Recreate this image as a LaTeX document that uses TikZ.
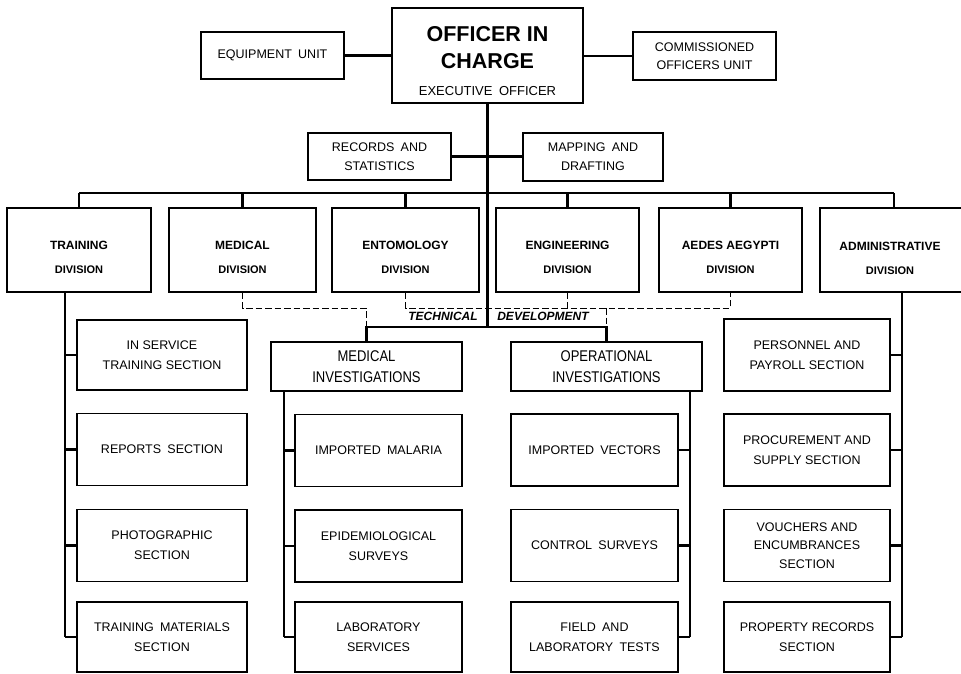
\documentclass[tikz,border=0pt]{standalone}
\usepackage{fontspec}
\setmainfont{Liberation Sans}
\newfontfamily\condfont[FakeStretch=0.84]{Liberation Sans}

\tikzset{
  box/.style={draw, line width=1.4pt, align=center, inner sep=0pt,
    font=\fontsize{12.5}{20}\selectfont},
  sect/.style={box, minimum height=72pt},
  division/.style={box, minimum height=84pt},
  divtext/.style={align=center, inner sep=0pt, font=\fontsize{12}{24}\selectfont\bfseries},
  invest/.style={box, minimum width=191pt, minimum height=49pt,
    font=\condfont\fontsize{15.5}{21}\selectfont},
  link/.style={line width=2.2pt},
  techlink/.style={line width=1pt, dash pattern=on 6.5pt off 3pt},
}

\begin{document}
\begin{tikzpicture}[x=1pt, y=-1pt]
    \useasboundingbox (0,0) rectangle (961,673);
    \clip (0,0) rectangle (961,673);

    % Officer in charge and staff units
    \node[box, minimum width=191pt, minimum height=95pt] (oic) at (487.5,55.5) {};
    \node[align=center, inner sep=0pt, font=\fontsize{21.5}{27}\selectfont] (oic-t) at (487.5,61)
        {{\bfseries OFFICER IN}\\{\bfseries CHARGE}\\{\fontsize{13}{27}\selectfont EXECUTIVE\enspace OFFICER}};
    \node[box, minimum width=143pt, minimum height=47pt] (equip) at (272.5,55.5) {EQUIPMENT\enspace UNIT};
    \node[box, minimum width=143pt, minimum height=48pt, font=\fontsize{12.5}{18}\selectfont] (comm) at (704.5,56)
        {COMMISSIONED\\OFFICERS UNIT};
    \node[box, minimum width=143pt, minimum height=47pt, font=\fontsize{12.5}{19}\selectfont] (rec) at (379.5,156.5)
        {RECORDS\enspace AND\\STATISTICS};
    \node[box, minimum width=140pt, minimum height=48pt, font=\fontsize{12.5}{19}\selectfont] (map) at (593,157)
        {MAPPING\enspace AND\\DRAFTING};

    % Divisions
    \node[division, minimum width=144pt] (train) at (79,250) {};
    \node[division, minimum width=147pt] (med) at (242.5,250) {};
    \node[division, minimum width=147pt] (ent) at (405.5,250) {};
    \node[division, minimum width=143pt] (eng) at (567.5,250) {};
    \node[division, minimum width=143pt] (aedes) at (730.5,250) {};
    \node[division, minimum width=148pt] (admin) at (894,250) {};
    \node[divtext] (train-t) at (79,257) {TRAINING\\{\fontsize{11}{24}\selectfont DIVISION}};
    \node[divtext] (med-t) at (242.5,257) {MEDICAL\\{\fontsize{11}{24}\selectfont DIVISION}};
    \node[divtext] (ent-t) at (405.5,257) {ENTOMOLOGY\\{\fontsize{11}{24}\selectfont DIVISION}};
    \node[divtext] (eng-t) at (567.5,257) {ENGINEERING\\{\fontsize{11}{24}\selectfont DIVISION}};
    \node[divtext] (aedes-t) at (730.5,257) {AEDES AEGYPTI\\{\fontsize{11}{24}\selectfont DIVISION}};
    \node[divtext] (admin-t) at (890,258.5) {ADMINISTRATIVE\\{\fontsize{11}{24}\selectfont DIVISION}};

    % Technical development
    \node[invest] (medinv) at (366.5,366.5) {MEDICAL\\INVESTIGATIONS};
    \node[invest] (opinv) at (606.5,366.5) {OPERATIONAL\\INVESTIGATIONS};
    \node[inner sep=0pt, font=\fontsize{12}{14}\selectfont\bfseries\itshape] (tech) at (443,316.5) {TECHNICAL};
    \node[inner sep=0pt, font=\fontsize{12}{14}\selectfont\bfseries\itshape] (devel) at (543,316.5) {DEVELOPMENT};

    % Training sections
    \node[sect, minimum width=170pt, minimum height=70pt] (insvc) at (162,355) {IN SERVICE\\TRAINING SECTION};
    \node[sect, minimum width=170pt] (reports) at (162,449.5) {REPORTS\enspace SECTION};
    \node[sect, minimum width=170pt] (photo) at (162,545.5) {PHOTOGRAPHIC\\SECTION};
    \node[sect, minimum width=170pt, minimum height=70pt] (trmat) at (162,637) {TRAINING\enspace MATERIALS\\SECTION};

    % Medical investigations
    \node[sect, minimum width=167pt] (malaria) at (378.5,450.5) {IMPORTED\enspace MALARIA};
    \node[sect, minimum width=167pt] (epid) at (378.5,546) {EPIDEMIOLOGICAL\\SURVEYS};
    \node[sect, minimum width=167pt, minimum height=70pt] (labsvc) at (378.5,637) {LABORATORY\\SERVICES};

    % Operational investigations
    \node[sect, minimum width=167pt] (vectors) at (594.5,450) {IMPORTED\enspace VECTORS};
    \node[sect, minimum width=167pt] (ctrl) at (594.5,545.5) {CONTROL\enspace SURVEYS};
    \node[sect, minimum width=167pt, minimum height=70pt] (fieldlab) at (594.5,637) {FIELD\enspace AND\\LABORATORY\enspace TESTS};

    % Administrative sections
    \node[sect, minimum width=166pt] (personnel) at (807,355) {PERSONNEL AND\\PAYROLL SECTION};
    \node[sect, minimum width=166pt] (procure) at (807,450) {PROCUREMENT AND\\SUPPLY SECTION};
    \node[sect, minimum width=166pt, font=\fontsize{12.5}{18.5}\selectfont] (vouchers) at (807,545.5)
        {VOUCHERS AND\\ENCUMBRANCES\\SECTION};
    \node[sect, minimum width=166pt, minimum height=70pt] (property) at (807,637) {PROPERTY RECORDS\\SECTION};

    % Bus lines
    \coordinate (bus) at (487.5,193);
    \coordinate (td) at (487.5,327);
    \coordinate (dashy) at (0,308);
    \coordinate (trainv) at (65,292);
    \coordinate (medv) at (284,391);
    \coordinate (opv) at (690,391);
    \coordinate (adminv) at (902,292);

    % Dashed technical links
    \draw[techlink] (med.south) |- (medinv.north |- dashy) -- (medinv.north |- td);
    \draw[techlink] (ent.south) |- (aedes.south |- dashy) -- (aedes.south);
    \draw[techlink] (eng.south) -- (eng.south |- dashy);
    \draw[techlink] (opinv.north |- dashy) -- (opinv.north |- td);

    % Solid links
    \draw[link] (equip.east) -- (equip.east -| oic.west);
    \draw[link] (comm.west -| oic.east) -- (comm.west);
    \draw[link] (oic.south) -- (td);
    \draw[link] (rec.east) -- (rec.east -| map.west);
    \draw[link] (train.north |- bus) -- (admin.north |- bus);
    \foreach \d in {train,med,ent,eng,aedes,admin}
        \draw[link] (\d.north) -- (\d.north |- bus);
    \draw[link] (medinv.north) |- (td) -| (opinv.north);

    \draw[link] (trainv) -- (trainv |- trmat.west);
    \foreach \s in {insvc,reports,photo,trmat}
        \draw[link] (\s.west) -- (\s.west -| trainv);
    \draw[link] (medv) -- (medv |- labsvc.west);
    \foreach \s in {malaria,epid,labsvc}
        \draw[link] (\s.west) -- (\s.west -| medv);
    \draw[link] (opv) -- (opv |- fieldlab.east);
    \foreach \s in {vectors,ctrl,fieldlab}
        \draw[link] (\s.east) -- (\s.east -| opv);
    \draw[link] (adminv) -- (adminv |- property.east);
    \foreach \s in {personnel,procure,vouchers,property}
        \draw[link] (\s.east) -- (\s.east -| adminv);
\end{tikzpicture}
\end{document}
